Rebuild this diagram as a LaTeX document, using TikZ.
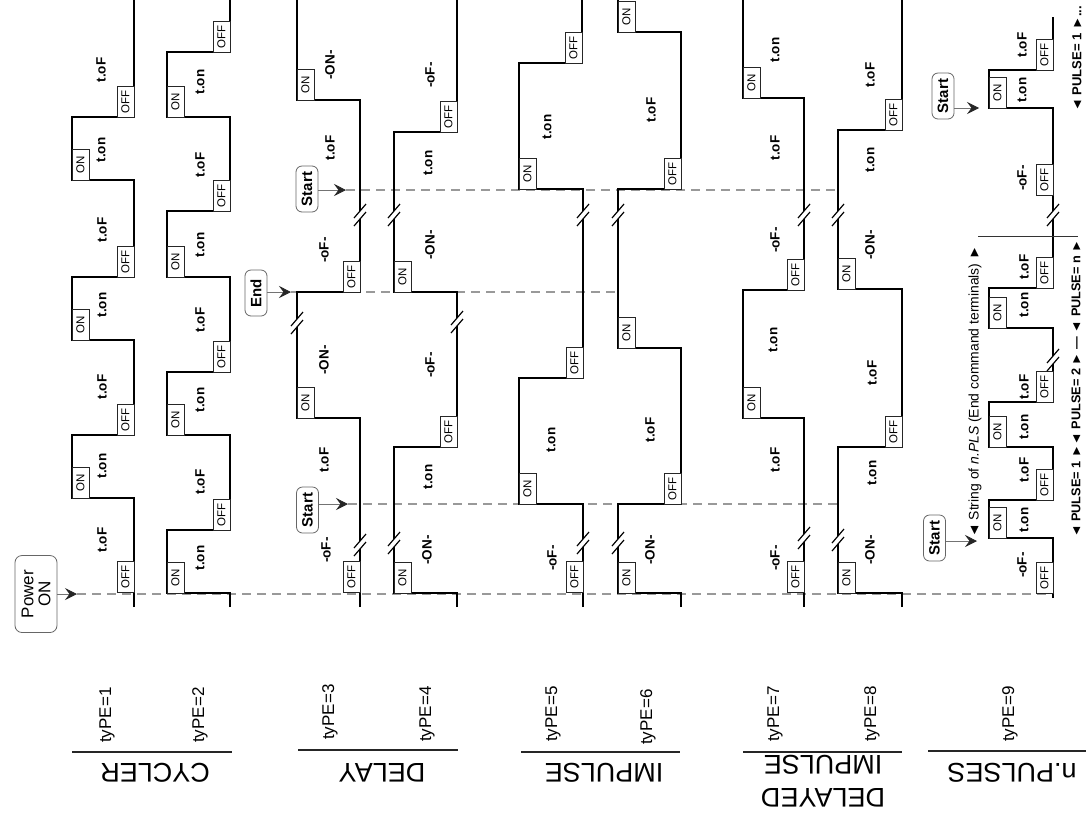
\documentclass[tikz,border=0pt]{standalone}
\usepackage{fontspec}
\usepackage{graphicx}
\setmainfont{Liberation Sans}
\usetikzlibrary{arrows.meta}
\newcounter{nid}
\tikzset{
  trace/.style={line width=1.8pt, black, line join=miter},
  sbox/.style={draw=black!85, line width=0.8pt, fill=white, rotate=90, minimum width=31pt, minimum height=17pt, inner sep=0pt, font=\fontsize{11.5}{11.5}\selectfont},
  lbl/.style={rotate=90, inner sep=0pt, font=\fontsize{13.5}{13.5}\selectfont\bfseries},
  evt/.style={draw=black!60, line width=0.8pt, fill=white, rounded corners=6pt, rotate=90, inner sep=2pt, minimum height=22pt, minimum width=46pt, font=\fontsize{15}{15}\selectfont\bfseries},
  pwrbox/.style={draw=black!60, line width=0.8pt, fill=white, rounded corners=7pt, rotate=90, inner sep=2pt, minimum width=77pt, minimum height=42pt, align=center, font=\fontsize{17}{17}\selectfont},
  evarrow/.style={draw=black!55, line width=0.7pt, -{Stealth[length=12pt,width=12pt,inset=4.5pt,color=black!85]}},
  evline/.style={draw=black!40, line width=1.1pt, dash pattern=on 9pt off 6pt},
  brkline/.style={line width=1.2pt, black},
  typ/.style={rotate=90, anchor=west, inner sep=0pt, font=\fontsize{17}{17}\selectfont},
  grp/.style={rotate=180, inner sep=0pt, font=\fontsize{27}{33}\selectfont, align=center},
  uline/.style={line width=1.6pt, black!85},
}
\newcommand\wON[2]{\stepcounter{nid}\node[sbox] (n\arabic{nid}) at ({#1+8.5},{#2-15.5}) {ON};}
\newcommand\wOFF[2]{\stepcounter{nid}\node[sbox] (n\arabic{nid}) at ({#1-8.5},{#2-15.5}) {OFF};}
\newcommand\wlab[3]{\stepcounter{nid}\node[lbl] (n\arabic{nid}) at (#1,#2) {#3};}
\newcommand\wbrk[2]{\fill[white] ({#1-2.5},{#2-4}) rectangle ({#1+2.5},{#2+4});
  \draw[brkline] ({#1-6},{#2+11}) -- ({#1+6},{#2-3});
  \draw[brkline] ({#1-6},{#2+3}) -- ({#1+6},{#2-11});}
\begin{document}
\begin{tikzpicture}[x=1pt,y=-1pt]
\useasboundingbox (0,0) rectangle (1086,820);
\fill[white] (0,0) rectangle (1086,820);

% ---------- event labels ----------
\node[pwrbox] (pwr) at (36,594) {Power\\ON};
\node[evt] (endl) at (256,293) {End};
\node[evt] (st1) at (307.5,510) {Start};
\node[evt] (st2) at (307,189) {Start};
\node[evt] (st9a) at (934.5,538) {Start};
\node[evt] (st9b) at (943,96) {Start};

\coordinate (pwrT) at (77,594);  \coordinate (pwrE) at (1053,594);
\coordinate (endT) at (291,292); \coordinate (endE) at (618,292);
\coordinate (st1T) at (348,504); \coordinate (st1E) at (838,504);
\coordinate (st2T) at (346,190); \coordinate (st2E) at (838,190);
\coordinate (st9aT) at (977,541);
\coordinate (st9bT) at (979,108);

% dashed event lines
\draw[evline] (pwrT) -- (pwrE);
\draw[evline] (endT) -- (endE);
\draw[evline] (st1T) -- (st1E);
\draw[evline] (st2T) -- (st2E);

% arrows from labels
\draw[evarrow] (pwrT -| pwr.south) -- (pwrT);
\draw[evarrow] (endT -| endl.south) -- (endT);
\draw[evarrow] (st1T -| st1.south) -- (st1T);
\draw[evarrow] (st2T -| st2.south) -- (st2T);
\draw[evarrow] (st9aT -| st9a.south) -- (st9aT);
\draw[evarrow] (st9bT -| st9b.south) -- (st9bT);

% ---------- type 1 ----------
\draw[trace] (134,607)--(134,498)--(72,498)--(72,435)--(134,435)--(134,340)--(72,340)--(72,277)--(134,277)--(134,180)--(72,180)--(72,117)--(134,117)--(134,0);
\wOFF{134}{592}\wON{72}{498}\wOFF{134}{435}\wON{72}{340}\wOFF{134}{277}\wON{72}{180}\wOFF{134}{117}
\wlab{102}{540}{t.oF}\wlab{102}{466}{t.on}\wlab{102}{387}{t.oF}\wlab{102}{305}{t.on}\wlab{102}{230}{t.oF}\wlab{101}{150}{t.on}\wlab{101}{70}{t.oF}

% ---------- type 2 ----------
\draw[trace] (230,607)--(230,593)--(167,593)--(167,530)--(230,530)--(230,435)--(167,435)--(167,372)--(230,372)--(230,277)--(167,277)--(167,211)--(230,211)--(230,117)--(167,117)--(167,52)--(230,52)--(230,0);
\wON{167}{593}\wOFF{230}{530}\wON{167}{435}\wOFF{230}{372}\wON{167}{277}\wOFF{230}{211}\wON{167}{117}\wOFF{230}{52}
\wlab{200}{558}{t.on}\wlab{200}{482}{t.oF}\wlab{200}{400}{t.on}\wlab{200}{320}{t.oF}\wlab{200}{245}{t.on}\wlab{200}{165}{t.oF}\wlab{200}{82}{t.on}

% ---------- type 3 ----------
\draw[trace] (360,607)--(360,418)--(297,418)--(297,292)--(360,292)--(360,100)--(297,100)--(297,0);
\wOFF{360}{592}\wON{297}{418}\wOFF{360}{292}\wON{297}{100}
\wlab{326}{550}{-oF-}\wlab{324}{460}{t.oF}\wlab{324}{360}{-ON-}\wlab{324}{250}{-oF-}\wlab{330}{148}{t.oF}\wlab{330}{65}{-ON-}
\wbrk{360}{545}\wbrk{297}{323}\wbrk{360}{215}

% ---------- type 4 ----------
\draw[trace] (457,607)--(457,593)--(394,593)--(394,447)--(457,447)--(457,292)--(394,292)--(394,132)--(457,132)--(457,0);
\wON{394}{593}\wOFF{457}{447}\wON{394}{292}\wOFF{457}{132}
\wlab{427}{550}{-ON-}\wlab{428}{477}{t.on}\wlab{430}{365}{-oF-}\wlab{430}{245}{-ON-}\wlab{428}{163}{t.on}\wlab{430}{75}{-oF-}
\wbrk{394}{543}\wbrk{457}{322}\wbrk{394}{215}

% ---------- type 5 ----------
\draw[trace] (583,607)--(583,504)--(519,504)--(519,378)--(583,378)--(583,189)--(519,189)--(519,63)--(582,63)--(582,0);
\wOFF{583}{592}\wON{519}{504}\wOFF{583}{378}\wON{519}{189}\wOFF{582}{63}
\wlab{552}{558}{-oF-}\wlab{551}{440}{t.on}\wlab{547}{127}{t.on}
\wbrk{583}{543}\wbrk{583}{215}

% ---------- type 6 ----------
\draw[trace] (681,607)--(681,593)--(618,593)--(618,504)--(681,504)--(681,348)--(618,348)--(618,189)--(681,189)--(681,32)--(618,32)--(618,0);
\wON{618}{593}\wOFF{681}{504}\wON{618}{348}\wOFF{681}{189}\wON{618}{32}
\wlab{650}{550}{-ON-}\wlab{650}{430}{t.oF}\wlab{651}{110}{t.oF}
\wbrk{618}{543}\wbrk{618}{215}

% ---------- type 7 ----------
\draw[trace] (804,607)--(804,418)--(743,418)--(743,290)--(804,290)--(804,98)--(743,98)--(743,0);
\wOFF{804}{592}\wON{743}{418}\wOFF{804}{290}\wON{743}{98}
\wlab{775}{558}{-oF-}\wlab{775}{460}{t.oF}\wlab{773}{340}{t.on}\wlab{775}{240}{-oF-}\wlab{775}{148}{t.oF}\wlab{775}{50}{t.on}
\wbrk{804}{538}\wbrk{804}{215}

% ---------- type 8 ----------
\draw[trace] (902,607)--(902,593)--(838,593)--(838,447)--(902,447)--(902,289)--(838,289)--(838,130)--(902,130)--(902,0);
\wON{838}{593}\wOFF{902}{447}\wON{838}{289}\wOFF{902}{130}
\wlab{870}{550}{-ON-}\wlab{872}{473}{t.on}\wlab{872}{373}{t.oF}\wlab{870}{245}{-ON-}\wlab{870}{160}{t.on}\wlab{870}{75}{t.oF}
\wbrk{838}{540}\wbrk{838}{215}

% ---------- type 9 ----------
\draw[trace] (1053,598)--(1053,538)--(989,538)--(989,500)--(1053,500)--(1053,447)--(989,447)--(989,402)--(1053,402)--(1053,328)--(989,328)--(989,288)--(1053,288)--(1053,108)--(989,108)--(989,70)--(1053,70)--(1053,17);
\wOFF{1053}{593}\wON{989}{538}\wOFF{1053}{500}\wON{989}{447}\wOFF{1053}{402}\wON{989}{328}\wOFF{1053}{288}\wOFF{1053}{195}\wON{989}{108}\wOFF{1053}{70}
\wlab{1022}{565}{-oF-}\wlab{1024}{520}{t.on}\wlab{1024}{470}{t.oF}\wlab{1024}{427}{t.on}\wlab{1024}{387}{t.oF}\wlab{1024}{305}{t.on}\wlab{1024}{267}{t.oF}\wlab{1022}{178}{-oF-}\wlab{1022}{90}{t.on}\wlab{1022}{45}{t.oF}
\wbrk{1053}{360}\wbrk{1053}{215}

% string of pulses annotation
\coordinate (brA) at (978,236); \coordinate (brB) at (1078,236);
\draw[line width=0.7pt, black!80] (brA) -- (brB);
\node[rotate=90, anchor=west, inner sep=0pt] (strg) at (975,538) {\resizebox{292pt}{!}{◄ String of \textit{n.PLS} (End command terminals) ►}};
\node[rotate=90, anchor=west, inner sep=0pt] (pls) at (1076,538) {\resizebox{298pt}{!}{\bfseries ◄ PULSE= 1 ►◄ PULSE= 2 ► — ◄ PULSE= n ►}};
\node[rotate=90, anchor=west, inner sep=0pt] (pls2) at (1077,112) {\resizebox{106pt}{!}{\bfseries ◄ PULSE= 1 ►...}};

% ---------- type labels ----------
\node[typ] (ty1) at (107,743) {tyPE=1};
\node[typ] (ty2) at (200,743) {tyPE=2};
\node[typ] (ty3) at (330,740) {tyPE=3};
\node[typ] (ty4) at (427,742) {tyPE=4};
\node[typ] (ty5) at (553,742) {tyPE=5};
\node[typ] (ty6) at (648,745) {tyPE=6};
\node[typ] (ty7) at (775,742) {tyPE=7};
\node[typ] (ty8) at (872,742) {tyPE=8};
\node[typ] (ty9) at (1010,742) {tyPE=9};

% ---------- group underlines ----------
\draw[uline] (72,752) -- (232,752);
\draw[uline] (298,750) -- (458,750);
\draw[uline] (521,752) -- (680,752);
\draw[uline] (743,752) -- (902,752);
\draw[uline] (928,751) -- (1086,751);

% ---------- group names ----------
\node[grp] (g1) at (155,773) {CYCLER};
\node[grp] (g2) at (382,773) {DELAY};
\node[grp] (g3) at (604,773) {IMPULSE};
\node[grp] (g4) at (823,781) {DELAYED\\IMPULSE};
\node[grp] (g5) at (1012,773) {n.PULSES};
\end{tikzpicture}
\end{document}
